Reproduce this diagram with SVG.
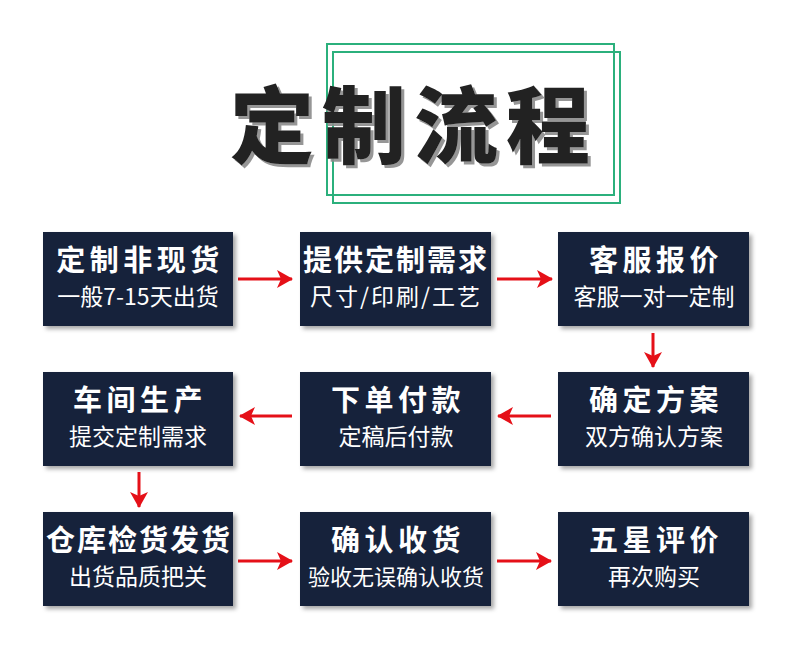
<svg xmlns="http://www.w3.org/2000/svg" width="790" height="670" viewBox="0 0 790 670">
  <defs>
    <style>
      .frame { fill: none; stroke: #2bb07c; stroke-width: 2; }
      .box { fill: #19203a; filter: url(#sh); }
      .t { font-family: "Noto Sans CJK SC", "Noto Sans", sans-serif; fill: #ffffff; font-size: 29px; font-weight: 700; text-anchor: middle; letter-spacing: 4.5px; }
      .t6 { letter-spacing: 2px; }
      .s { font-family: "Noto Sans CJK SC", "Noto Sans", sans-serif; fill: #ffffff; font-size: 23px; font-weight: 400; text-anchor: middle; }
      .big { font-family: "Noto Sans CJK SC", sans-serif; font-size: 84px; font-weight: 900; letter-spacing: 8px; fill: #222222; filter: url(#tsh); }
      .arr { stroke: #e51018; stroke-width: 3; fill: none; marker-end: url(#ah); }
    </style>
    <filter id="sh" x="-10%" y="-10%" width="125%" height="130%">
      <feDropShadow dx="3" dy="3" stdDeviation="2" flood-color="#000000" flood-opacity="0.35"/>
    </filter>
    <filter id="tsh" x="-5%" y="-10%" width="115%" height="130%">
      <feDropShadow dx="3" dy="3" stdDeviation="0.6" flood-color="#8a8a8a" flood-opacity="0.9"/>
    </filter>
    <marker id="ah" viewBox="0 0 16 18" refX="15" refY="9" markerWidth="16" markerHeight="18" markerUnits="userSpaceOnUse" orient="auto">
      <path d="M0,0 L16,9 L0,18 L4,9 Z" fill="#e51018"/>
    </marker>
  </defs>
  <rect width="790" height="670" fill="#ffffff"/>

  <g id="title">
    <rect class="frame" x="327" y="44" width="287" height="151"/>
    <rect class="frame" x="333" y="52" width="287" height="151"/>
    <text class="big" x="230" y="157">定制流程</text>
  </g>

  <g id="connectors">
    <line class="arr" x1="238" y1="279" x2="292" y2="279"/>
    <line class="arr" x1="497" y1="279" x2="552" y2="279"/>
    <line class="arr" x1="653" y1="333" x2="653" y2="367"/>
    <line class="arr" x1="551" y1="416" x2="498" y2="416"/>
    <line class="arr" x1="292" y1="416" x2="240" y2="416"/>
    <line class="arr" x1="139" y1="472" x2="139" y2="507"/>
    <line class="arr" x1="238" y1="561" x2="292" y2="561"/>
    <line class="arr" x1="497" y1="561" x2="551" y2="561"/>
  </g>

  <g id="n1">
    <rect class="box" x="43" y="232" width="190" height="94"/>
    <text class="t" x="140" y="271">定制非现货</text>
    <text class="s" x="138" y="305">一般7-15天出货</text>
  </g>
  <g id="n2">
    <rect class="box" x="300" y="232" width="191" height="94"/>
    <text class="t t6" x="396" y="271">提供定制需求</text>
    <text class="s" x="396" y="305" style="letter-spacing:2px">尺寸/印刷/工艺</text>
  </g>
  <g id="n3">
    <rect class="box" x="558" y="232" width="191" height="94"/>
    <text class="t" x="656" y="271">客服报价</text>
    <text class="s" x="654" y="305">客服一对一定制</text>
  </g>
  <g id="n4">
    <rect class="box" x="43" y="372" width="190" height="94"/>
    <text class="t" x="140" y="411">车间生产</text>
    <text class="s" x="138" y="445">提交定制需求</text>
  </g>
  <g id="n5">
    <rect class="box" x="300" y="372" width="191" height="94"/>
    <text class="t" x="398" y="411">下单付款</text>
    <text class="s" x="396" y="445">定稿后付款</text>
  </g>
  <g id="n6">
    <rect class="box" x="558" y="372" width="191" height="94"/>
    <text class="t" x="656" y="411">确定方案</text>
    <text class="s" x="654" y="445">双方确认方案</text>
  </g>
  <g id="n7">
    <rect class="box" x="43" y="512" width="190" height="94"/>
    <text class="t t6" x="139" y="551">仓库检货发货</text>
    <text class="s" x="138" y="585">出货品质把关</text>
  </g>
  <g id="n8">
    <rect class="box" x="300" y="512" width="191" height="94"/>
    <text class="t" x="398" y="551">确认收货</text>
    <text class="s" x="396" y="585" style="font-size:22px">验收无误确认收货</text>
  </g>
  <g id="n9">
    <rect class="box" x="558" y="512" width="191" height="94"/>
    <text class="t" x="656" y="551">五星评价</text>
    <text class="s" x="654" y="585">再次购买</text>
  </g>
</svg>
